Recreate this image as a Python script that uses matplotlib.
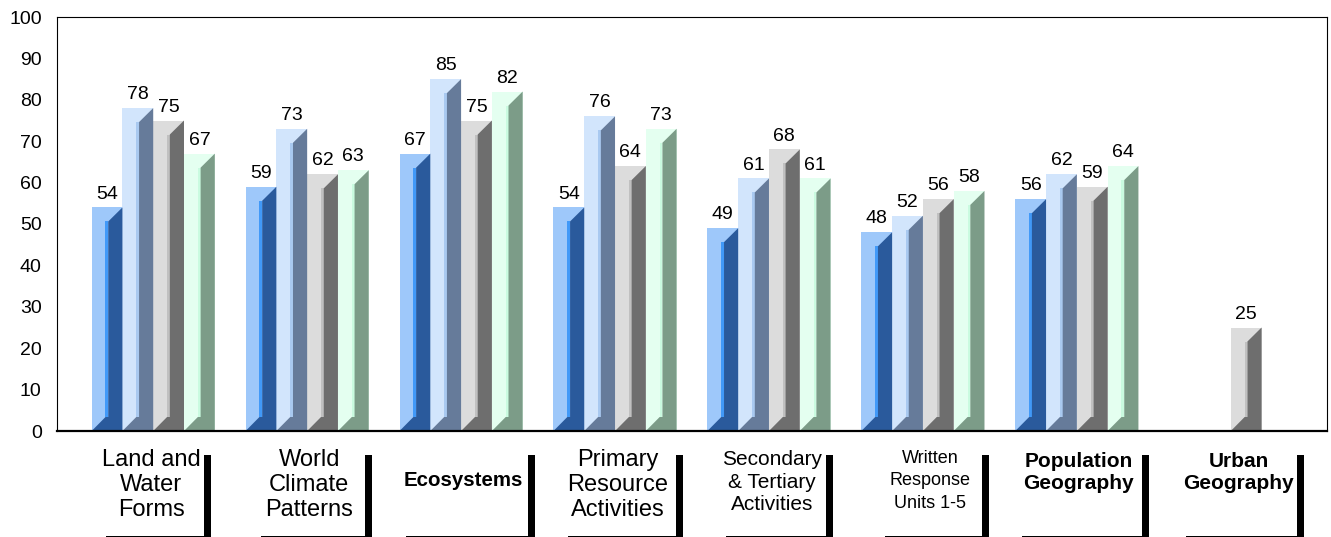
import numpy as np
import matplotlib
matplotlib.use('Agg')
import matplotlib.pyplot as plt
from matplotlib.patches import Rectangle

plt.rcParams['font.family'] = ['Liberation Sans', 'DejaVu Sans']

categories = ["Land and\nWater\nForms", "World\nClimate\nPatterns", "\nEcosystems",
              "Primary\nResource\nActivities", "Secondary\n& Tertiary\nActivities",
              "Written\nResponse\nUnits 1-5", "Population\nGeography", "Urban\nGeography"]
series_1 = [54, 59, 67, 54, 49, 48, 56, None]
series_2 = [78, 73, 85, 76, 61, 52, 62, None]
series_3 = [75, 62, 75, 64, 68, 56, 59, 25]
series_4 = [67, 63, 82, 73, 61, 58, 64, None]
y_ticks = list(range(0, 101, 10))

# face / inner strip / shaded side
colors = [
    ('#9ec8fa', '#4199f8', '#2a5a9c'),
    ('#d2e5fc', '#a9c9f0', '#667b9a'),
    ('#dcdcdc', '#c0c0c0', '#6e6e6e'),
    ('#e4fff0', '#cafbe0', '#7c9c88'),
]

label_size = [17, 17, 14.8, 17, 15, 13, 15, 15]
label_bold = [False, False, True, False, False, False, True, True]
label_dx = [-0.013, 0.013, 0.013, 0.02, 0.02, 0.045, 0.013, 0.05]   # group units
label_top = [449, 449, 449, 449, 450, 450, 452, 452]
label_ls = [1.18, 1.18, 1.18, 1.18, 1.25, 1.42, 1.18, 1.18]
box_w_px = [105, 111, 129, 115, 107, 104, 127, 118]

W, H = 1331, 537
fig = plt.figure(figsize=(W / 100, H / 100), dpi=100)
ax_l, ax_r, ax_t, ax_b = 57, 1327, 17, 431
ax = fig.add_axes([ax_l / W, 1 - ax_b / H, (ax_r - ax_l) / W, (ax_b - ax_t) / H])

xmin, xmax = -0.625, 7.625
ax.set_xlim(xmin, xmax)
ax.set_ylim(0, 100)
ux = (xmax - xmin) / (ax_r - ax_l)   # data units per pixel
uy = 100 / (ax_b - ax_t)

bw = 0.2
bev = 14 * uy
all_series = [series_1, series_2, series_3, series_4]

for i, vals in enumerate(all_series):
    face, strip, side = colors[i]
    for j, v in enumerate(vals):
        if v is None:
            continue
        x0 = j - 2 * bw + i * bw
        ax.bar(x0, v, width=bw, align='edge', color=face, linewidth=0, zorder=2)
        ax.fill([x0 + 0.45 * bw, x0 + 0.54 * bw, x0 + 0.54 * bw, x0 + 0.45 * bw],
                [bev, bev, v - bev, v - bev], color=strip, linewidth=0, zorder=3)
        ax.fill([x0, x0 + bw, x0 + bw, x0 + 0.54 * bw, x0 + 0.54 * bw, x0 + 0.45 * bw],
                [0, 0, v, v - bev, bev, bev], color=side, linewidth=0, zorder=3)
        ax.annotate(str(v), (x0 + bw / 2, v), xytext=(0, 3.5), textcoords='offset points',
                    ha='center', va='bottom', fontsize=14, zorder=4)

ax.set_yticks(y_ticks)
ax.set_xticks([])
ax.tick_params(axis='y', length=0, pad=11, labelsize=14)
for s in ['top', 'right', 'left']:
    ax.spines[s].set_linewidth(0.8)
ax.spines['bottom'].set_linewidth(1.6)
ax.spines['bottom'].set_zorder(5)

# category labels in white boxes with black drop shadow
box_top = (ax_b - 448) * uy
box_bot = (ax_b - 535.5) * uy
sh_x, sh_y = 7 * ux, 7 * uy
for j, lab in enumerate(categories):
    cx = j + label_dx[j]
    w = box_w_px[j] * ux
    ax.add_patch(Rectangle((cx - w / 2 + sh_x, box_bot - sh_y), w, box_top - box_bot,
                           facecolor='black', edgecolor='none', clip_on=False, zorder=1))
    ax.add_patch(Rectangle((cx - w / 2, box_bot), w, box_top - box_bot,
                           facecolor='white', edgecolor='none', clip_on=False, zorder=1.5))
    ax.text(cx, (ax_b - label_top[j]) * uy, lab, ha='center', va='top', fontsize=label_size[j],
            fontweight='bold' if label_bold[j] else 'normal', linespacing=label_ls[j],
            clip_on=False, zorder=2)

fig.savefig('out.png', dpi=100)
